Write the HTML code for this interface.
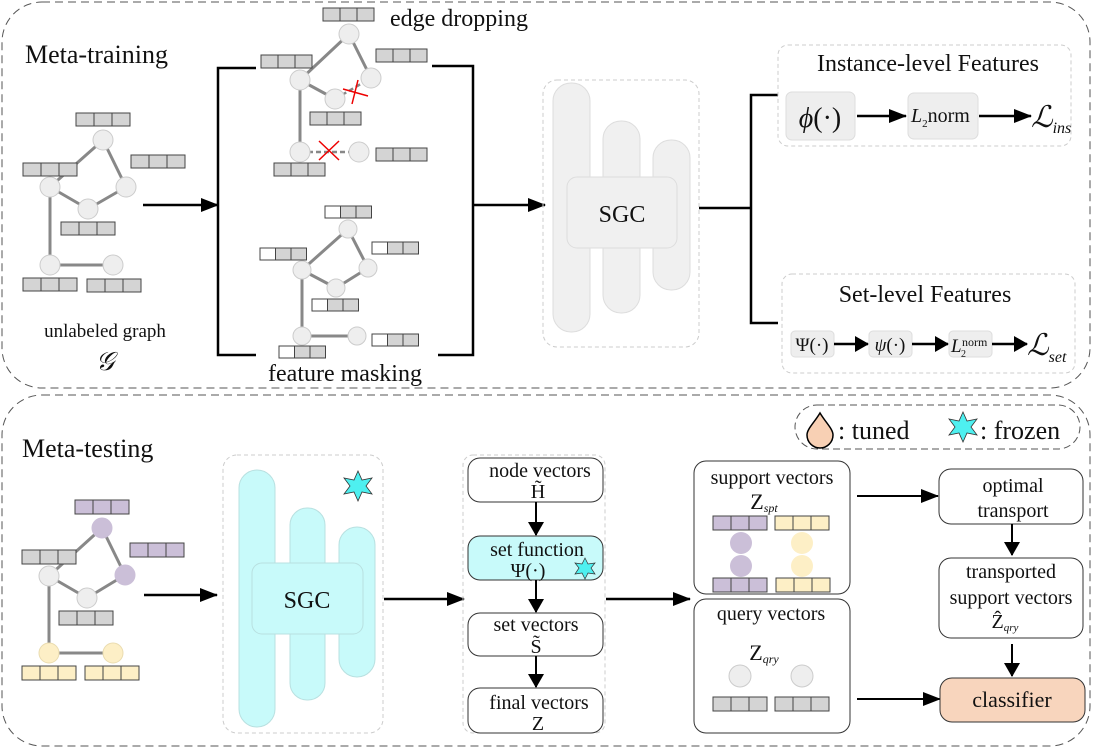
<!DOCTYPE html>
<html><head><meta charset="utf-8"><style>
html,body{margin:0;padding:0;background:#fff}
svg{display:block}
svg text{font-family:"Liberation Serif","DejaVu Serif",serif;fill:#111}
</style></head><body>
<svg width="1096" height="748" viewBox="0 0 1096 748" xmlns="http://www.w3.org/2000/svg" font-family="Liberation Serif, serif">
<defs>
<marker id="ah" markerWidth="10" markerHeight="10" refX="9" refY="5" orient="auto" markerUnits="userSpaceOnUse">
<path d="M0,0 L10,5 L0,10 z" fill="#000"/></marker>
<marker id="ahm" markerWidth="14" markerHeight="16" refX="13" refY="8" orient="auto" markerUnits="userSpaceOnUse">
<path d="M0,0 L14,8 L0,16 z" fill="#000"/></marker>
<marker id="ahb" markerWidth="18" markerHeight="14" refX="17" refY="7" orient="auto" markerUnits="userSpaceOnUse">
<path d="M0,0 L18,7 L0,14 z" fill="#000"/></marker>
</defs>

<rect x="2" y="2" width="1088" height="386" rx="40" fill="none" stroke="#555" stroke-dasharray="8,5" stroke-width="1"/>
<rect x="2" y="395" width="1088" height="351" rx="40" fill="none" stroke="#555" stroke-dasharray="8,5" stroke-width="1"/>
<text x="25" y="63" font-size="26">Meta-training</text>
<text x="22" y="457" font-size="26">Meta-testing</text>

<g stroke="#888" stroke-width="3">
<line x1="103" y1="140" x2="50" y2="187"/><line x1="103" y1="140" x2="126" y2="187"/>
<line x1="50" y1="187" x2="88" y2="209"/><line x1="88" y1="209" x2="126" y2="187"/>
<line x1="50" y1="187" x2="50" y2="265"/><line x1="50" y1="265" x2="113" y2="265"/>
</g>
<g fill="#eee" stroke="#ccc">
<circle cx="103" cy="140" r="10"/><circle cx="50" cy="187" r="10"/><circle cx="126" cy="187" r="10"/>
<circle cx="88" cy="209" r="10"/><circle cx="50" cy="265" r="10"/><circle cx="113" cy="265" r="10"/>
</g>
<g fill="#d4d4d4" stroke="#444" stroke-width="1">
<rect x="76" y="113" width="18" height="13"/><rect x="94" y="113" width="18" height="13"/><rect x="112" y="113" width="18" height="13"/>
<rect x="23" y="163" width="18" height="13"/><rect x="41" y="163" width="18" height="13"/><rect x="59" y="163" width="18" height="13"/>
<rect x="131" y="155" width="18" height="13"/><rect x="149" y="155" width="18" height="13"/><rect x="167" y="155" width="18" height="13"/>
<rect x="61" y="222" width="18" height="13"/><rect x="79" y="222" width="18" height="13"/><rect x="97" y="222" width="18" height="13"/>
<rect x="23" y="278" width="18" height="13"/><rect x="41" y="278" width="18" height="13"/><rect x="59" y="278" width="18" height="13"/>
<rect x="87" y="279" width="18" height="13"/><rect x="105" y="279" width="18" height="13"/><rect x="123" y="279" width="18" height="13"/>
</g>
<text x="105" y="337" font-size="19" text-anchor="middle">unlabeled graph</text>
<text x="105" y="370" font-size="26" font-style="italic" text-anchor="middle">𝒢</text>

<line x1="143" y1="205" x2="218" y2="205" stroke="#000" stroke-width="2.5" marker-end="url(#ahb)"/>
<path d="M256,68 H218 V355 H256" fill="none" stroke="#000" stroke-width="2.5"/>
<path d="M432,66 H473 V355 H438" fill="none" stroke="#000" stroke-width="2.5"/>
<line x1="473" y1="205" x2="545" y2="205" stroke="#000" stroke-width="2.5" marker-end="url(#ahb)"/>

<g stroke="#888" stroke-width="3">
<line x1="349" y1="34" x2="300" y2="80"/><line x1="349" y1="34" x2="371" y2="78"/>
<line x1="300" y1="80" x2="335" y2="99"/><line x1="300" y1="80" x2="300" y2="152"/>
</g>
<g stroke="#888" stroke-width="2.5" stroke-dasharray="5,3">
<line x1="335" y1="99" x2="371" y2="78"/><line x1="300" y1="152" x2="359" y2="152"/>
</g>
<g fill="#eee" stroke="#ccc">
<circle cx="349" cy="34" r="10"/><circle cx="300" cy="80" r="10"/><circle cx="371" cy="78" r="10"/>
<circle cx="335" cy="99" r="10"/><circle cx="300" cy="152" r="10"/><circle cx="359" cy="152" r="10"/>
</g>
<g stroke="#e00" stroke-width="1.5">
<line x1="343" y1="89" x2="368" y2="96"/><line x1="358" y1="80" x2="352" y2="104"/>
<line x1="319" y1="141" x2="339" y2="160"/><line x1="339" y1="141" x2="319" y2="160"/>
</g>
<g fill="#d4d4d4" stroke="#444">
<rect x="323" y="8" width="17" height="13"/><rect x="340" y="8" width="17" height="13"/><rect x="357" y="8" width="17" height="13"/>
<rect x="261" y="55" width="17" height="13"/><rect x="278" y="55" width="17" height="13"/><rect x="295" y="55" width="17" height="13"/>
<rect x="376" y="49" width="17" height="13"/><rect x="393" y="49" width="17" height="13"/><rect x="410" y="49" width="17" height="13"/>
<rect x="310" y="112" width="17" height="13"/><rect x="327" y="112" width="17" height="13"/><rect x="344" y="112" width="17" height="13"/>
<rect x="274" y="163" width="17" height="13"/><rect x="291" y="163" width="17" height="13"/><rect x="308" y="163" width="17" height="13"/>
<rect x="376" y="148" width="17" height="13"/><rect x="393" y="148" width="17" height="13"/><rect x="410" y="148" width="17" height="13"/>
</g>
<text x="390" y="26" font-size="24">edge dropping</text>

<g stroke="#888" stroke-width="3">
<line x1="348" y1="229" x2="302" y2="270"/><line x1="348" y1="229" x2="368" y2="268"/>
<line x1="302" y1="270" x2="336" y2="288"/><line x1="336" y1="288" x2="368" y2="268"/>
<line x1="302" y1="270" x2="302" y2="336"/><line x1="302" y1="336" x2="357" y2="336"/>
</g>
<g fill="#eee" stroke="#ccc">
<circle cx="348" cy="229" r="9"/><circle cx="302" cy="270" r="9"/><circle cx="368" cy="268" r="9"/>
<circle cx="336" cy="288" r="9"/><circle cx="302" cy="336" r="9"/><circle cx="357" cy="336" r="9"/>
</g>
<g stroke="#444">
<rect x="325" y="206" width="15.5" height="12" fill="#fff"/><rect x="340.5" y="206" width="15.5" height="12" fill="#d4d4d4"/><rect x="356" y="206" width="15.5" height="12" fill="#d4d4d4"/>
<rect x="260" y="248" width="15.5" height="12" fill="#fff"/><rect x="275.5" y="248" width="15.5" height="12" fill="#d4d4d4"/><rect x="291" y="248" width="15.5" height="12" fill="#d4d4d4"/>
<rect x="372" y="242" width="15.5" height="12" fill="#fff"/><rect x="387.5" y="242" width="15.5" height="12" fill="#d4d4d4"/><rect x="403" y="242" width="15.5" height="12" fill="#d4d4d4"/>
<rect x="312" y="299" width="15.5" height="12" fill="#fff"/><rect x="327.5" y="299" width="15.5" height="12" fill="#d4d4d4"/><rect x="343" y="299" width="15.5" height="12" fill="#d4d4d4"/>
<rect x="279" y="346" width="15.5" height="12" fill="#fff"/><rect x="294.5" y="346" width="15.5" height="12" fill="#d4d4d4"/><rect x="310" y="346" width="15.5" height="12" fill="#d4d4d4"/>
<rect x="372" y="334" width="15.5" height="12" fill="#fff"/><rect x="387.5" y="334" width="15.5" height="12" fill="#d4d4d4"/><rect x="403" y="334" width="15.5" height="12" fill="#d4d4d4"/>
</g>
<text x="345" y="381" font-size="24" text-anchor="middle">feature masking</text>

<rect x="543" y="80" width="156" height="267" rx="14" fill="none" stroke="#ccc" stroke-dasharray="4,3"/>
<g fill="#f0f0f0" stroke="#ddd">
<rect x="553" y="83" width="37" height="249" rx="18"/>
<rect x="603" y="121" width="37" height="192" rx="18"/>
<rect x="653" y="140" width="37" height="150" rx="18"/>
<rect x="567" y="177" width="110" height="71" rx="10"/>
</g>
<text x="622" y="222" font-size="24" text-anchor="middle">SGC</text>
<path d="M699,208 H751 M778,95 H751 V323 H778" fill="none" stroke="#000" stroke-width="2.5"/>

<rect x="778" y="45" width="293" height="101" rx="10" fill="none" stroke="#ccc" stroke-dasharray="4,3"/>
<text x="928" y="71" font-size="24" text-anchor="middle">Instance-level Features</text>
<rect x="786" y="92" width="69" height="48" rx="6" fill="#eee" stroke="#ddd"/>
<text x="820" y="127" font-size="28" text-anchor="middle"><tspan font-style="italic">ϕ</tspan>(·)</text>
<line x1="857" y1="116" x2="906" y2="116" stroke="#000" stroke-width="2.5" marker-end="url(#ahb)"/>
<rect x="908" y="93" width="70" height="46" rx="6" fill="#eee" stroke="#ddd"/>
<text x="911" y="122" font-size="20"><tspan font-style="italic">L</tspan><tspan font-size="11" dy="5">2</tspan><tspan dy="-5">norm</tspan></text>
<line x1="979" y1="116" x2="1031" y2="116" stroke="#000" stroke-width="2.5" marker-end="url(#ahb)"/>
<text x="1031" y="127" font-size="30" font-style="italic">ℒ<tspan font-size="16" dy="6">ins</tspan></text>

<rect x="782" y="274" width="293" height="99" rx="10" fill="none" stroke="#ccc" stroke-dasharray="4,3"/>
<text x="925" y="302" font-size="24" text-anchor="middle">Set-level Features</text>
<rect x="791" y="331" width="43" height="26" rx="4" fill="#eee" stroke="#ddd"/>
<text x="812" y="351" font-size="19" text-anchor="middle">Ψ(·)</text>
<line x1="834" y1="344" x2="868" y2="344" stroke="#000" stroke-width="2.5" marker-end="url(#ahm)"/>
<rect x="869" y="331" width="43" height="26" rx="4" fill="#eee" stroke="#ddd"/>
<text x="890" y="351" font-size="19" text-anchor="middle"><tspan font-style="italic">ψ</tspan>(·)</text>
<line x1="912" y1="344" x2="948" y2="344" stroke="#000" stroke-width="2.5" marker-end="url(#ahm)"/>
<rect x="949" y="331" width="43" height="26" rx="4" fill="#eee" stroke="#ddd"/>
<text x="951" y="352" font-size="19" font-style="italic">L</text><text x="961" y="357" font-size="10">2</text><text x="962" y="346" font-size="12">norm</text>
<line x1="992" y1="344" x2="1027" y2="344" stroke="#000" stroke-width="2.5" marker-end="url(#ahm)"/>
<text x="1027" y="355" font-size="30" font-style="italic">ℒ<tspan font-size="16" dy="7">set</tspan></text>

<rect x="795" y="405" width="285" height="44" rx="22" fill="none" stroke="#555" stroke-dasharray="7,4"/>
<path d="M820,413 C814,423 807,429 807,435 A8,8 0 0 0 833,435 C833,429 826,423 820,413 z" fill="#f8d0b4" stroke="#000" stroke-width="1.5"/>
<text x="838" y="439" font-size="26">:  tuned</text>
<polygon points="963,412 967,421 977,419 971,427 977,435 967,433 963,442 959,433 949,435 955,427 949,419 959,421" fill="#4ef0f0" stroke="#333" stroke-width="0.8"/>
<text x="980" y="439" font-size="26">: frozen</text>

<g stroke="#888" stroke-width="3">
<line x1="102" y1="528" x2="49" y2="576"/><line x1="102" y1="528" x2="125" y2="575"/>
<line x1="49" y1="576" x2="87" y2="598"/><line x1="87" y1="598" x2="125" y2="575"/>
<line x1="49" y1="576" x2="49" y2="653"/><line x1="49" y1="653" x2="113" y2="653"/>
</g>
<circle cx="102" cy="528" r="10" fill="#cbbfd8" stroke="#cbbfd8"/>
<circle cx="125" cy="575" r="10" fill="#cbbfd8" stroke="#cbbfd8"/>
<circle cx="49" cy="576" r="10" fill="#eee" stroke="#ccc"/>
<circle cx="87" cy="598" r="10" fill="#eee" stroke="#ccc"/>
<circle cx="49" cy="653" r="10" fill="#fdefc6" stroke="#eadcb0"/>
<circle cx="113" cy="653" r="10" fill="#fdefc6" stroke="#eadcb0"/>
<g stroke="#444">
<g fill="#cbbfd8"><rect x="75" y="500" width="18" height="14"/><rect x="93" y="500" width="18" height="14"/><rect x="111" y="500" width="18" height="14"/>
<rect x="130" y="543" width="18" height="14"/><rect x="148" y="543" width="18" height="14"/><rect x="166" y="543" width="18" height="14"/></g>
<g fill="#d4d4d4"><rect x="22" y="550" width="18" height="14"/><rect x="40" y="550" width="18" height="14"/><rect x="58" y="550" width="18" height="14"/>
<rect x="59" y="611" width="18" height="14"/><rect x="77" y="611" width="18" height="14"/><rect x="95" y="611" width="18" height="14"/></g>
<g fill="#fdefc6"><rect x="22" y="666" width="18" height="14"/><rect x="40" y="666" width="18" height="14"/><rect x="58" y="666" width="18" height="14"/>
<rect x="85" y="666" width="18" height="14"/><rect x="103" y="666" width="18" height="14"/><rect x="121" y="666" width="18" height="14"/></g>
</g>
<line x1="144" y1="595" x2="217" y2="595" stroke="#000" stroke-width="2.5" marker-end="url(#ahb)"/>

<rect x="223" y="455" width="160" height="278" rx="14" fill="none" stroke="#ccc" stroke-dasharray="4,3"/>
<g fill="#c8fafa" stroke="#b8e0e0">
<rect x="239" y="470" width="36" height="257" rx="18"/>
<rect x="290" y="508" width="35" height="192" rx="17"/>
<rect x="339" y="527" width="36" height="150" rx="18"/>
<rect x="252" y="563" width="111" height="71" rx="10"/>
</g>
<text x="307" y="608" font-size="24" text-anchor="middle">SGC</text>
<polygon points="358,471 362,480 372,478 366,486 372,494 362,492 358,501 354,492 344,494 350,486 344,478 354,480" fill="#4ef0f0" stroke="#333" stroke-width="0.8"/>
<line x1="384" y1="599" x2="464" y2="599" stroke="#000" stroke-width="2.5" marker-end="url(#ahb)"/>

<rect x="463" y="455" width="142" height="278" rx="10" fill="none" stroke="#ccc" stroke-dasharray="4,3"/>
<rect x="468" y="458" width="135" height="44" rx="12" fill="#fff" stroke="#333"/>
<text x="540" y="477" font-size="20" text-anchor="middle">node vectors</text>
<text x="538" y="498" font-size="20" text-anchor="middle">H̃</text>
<rect x="468" y="536" width="135" height="44" rx="12" fill="#c8fafa" stroke="#333"/>
<text x="537" y="556" font-size="20" text-anchor="middle">set function</text>
<text x="528" y="577" font-size="20" text-anchor="middle">Ψ(·)</text>
<polygon points="585,558 588,564 595,563 591,568 595,574 588,573 585,579 582,573 575,574 579,568 575,563 582,564" fill="#4ef0f0" stroke="#333" stroke-width="0.7"/>
<rect x="468" y="613" width="135" height="43" rx="12" fill="#fff" stroke="#333"/>
<text x="536" y="631" font-size="20" text-anchor="middle">set vectors</text>
<text x="536" y="653" font-size="20" text-anchor="middle">S̃</text>
<rect x="468" y="688" width="135" height="45" rx="12" fill="#fff" stroke="#333"/>
<text x="539" y="709" font-size="20" text-anchor="middle">final vectors</text>
<text x="538" y="730" font-size="20" text-anchor="middle">Z</text>
<g stroke="#000" stroke-width="2">
<line x1="536" y1="502" x2="536" y2="535" marker-end="url(#ahm)"/>
<line x1="536" y1="580" x2="536" y2="612" marker-end="url(#ahm)"/>
<line x1="536" y1="656" x2="536" y2="687" marker-end="url(#ahm)"/>
</g>
<line x1="606" y1="599" x2="690" y2="599" stroke="#000" stroke-width="2.5" marker-end="url(#ahb)"/>

<rect x="694" y="461" width="156" height="133" rx="12" fill="#fff" stroke="#333"/>
<text x="772" y="484" font-size="20" text-anchor="middle">support vectors</text>
<text x="764" y="509" font-size="22" text-anchor="middle">Z<tspan font-size="12" font-style="italic" dy="3">spt</tspan></text>
<circle cx="741" cy="543" r="11" fill="#cbbfd8"/><circle cx="741" cy="566" r="11" fill="#cbbfd8"/>
<circle cx="802" cy="543" r="11" fill="#fdefc6"/><circle cx="802" cy="566" r="11" fill="#fdefc6"/>
<g stroke="#444">
<g fill="#cbbfd8"><rect x="713" y="516" width="18" height="14"/><rect x="731" y="516" width="18" height="14"/><rect x="749" y="516" width="18" height="14"/>
<rect x="713" y="578" width="18" height="14"/><rect x="731" y="578" width="18" height="14"/><rect x="749" y="578" width="18" height="14"/></g>
<g fill="#fdefc6"><rect x="775" y="516" width="18" height="14"/><rect x="793" y="516" width="18" height="14"/><rect x="811" y="516" width="18" height="14"/>
<rect x="776" y="578" width="18" height="14"/><rect x="794" y="578" width="18" height="14"/><rect x="812" y="578" width="18" height="14"/></g>
</g>
<rect x="694" y="599" width="156" height="134" rx="12" fill="#fff" stroke="#333"/>
<text x="771" y="620" font-size="20" text-anchor="middle">query vectors</text>
<text x="764" y="660" font-size="22" text-anchor="middle">Z<tspan font-size="12" font-style="italic" dy="3">qry</tspan></text>
<circle cx="740" cy="676" r="11" fill="#eee" stroke="#ccc"/><circle cx="802" cy="676" r="11" fill="#eee" stroke="#ccc"/>
<g fill="#d4d4d4" stroke="#444">
<rect x="713" y="697" width="18" height="14"/><rect x="731" y="697" width="18" height="14"/><rect x="749" y="697" width="18" height="14"/>
<rect x="775" y="697" width="18" height="14"/><rect x="793" y="697" width="18" height="14"/><rect x="811" y="697" width="18" height="14"/>
</g>
<line x1="857" y1="496" x2="938" y2="496" stroke="#000" stroke-width="2" marker-end="url(#ahb)"/>
<line x1="857" y1="699" x2="940" y2="699" stroke="#000" stroke-width="2" marker-end="url(#ahb)"/>

<rect x="939" y="469" width="144" height="55" rx="12" fill="#fff" stroke="#333"/>
<text x="1013" y="492" font-size="20" text-anchor="middle">optimal</text>
<text x="1013" y="517" font-size="20" text-anchor="middle">transport</text>
<rect x="939" y="558" width="144" height="80" rx="12" fill="#fff" stroke="#333"/>
<text x="1011" y="578" font-size="20" text-anchor="middle">transported</text>
<text x="1011" y="604" font-size="20" text-anchor="middle">support vectors</text>
<text x="1005" y="628" font-size="20" text-anchor="middle">Ẑ<tspan font-size="11" font-style="italic" dy="3">qry</tspan></text>
<rect x="940" y="678" width="145" height="44" rx="12" fill="#f8d5bd" stroke="#333"/>
<text x="1012" y="707" font-size="22" text-anchor="middle">classifier</text>
<g stroke="#000" stroke-width="2">
<line x1="1012" y1="524" x2="1012" y2="555" marker-end="url(#ahm)"/>
<line x1="1012" y1="644" x2="1012" y2="676" marker-end="url(#ahm)"/>
</g>
</svg>
</body></html>
